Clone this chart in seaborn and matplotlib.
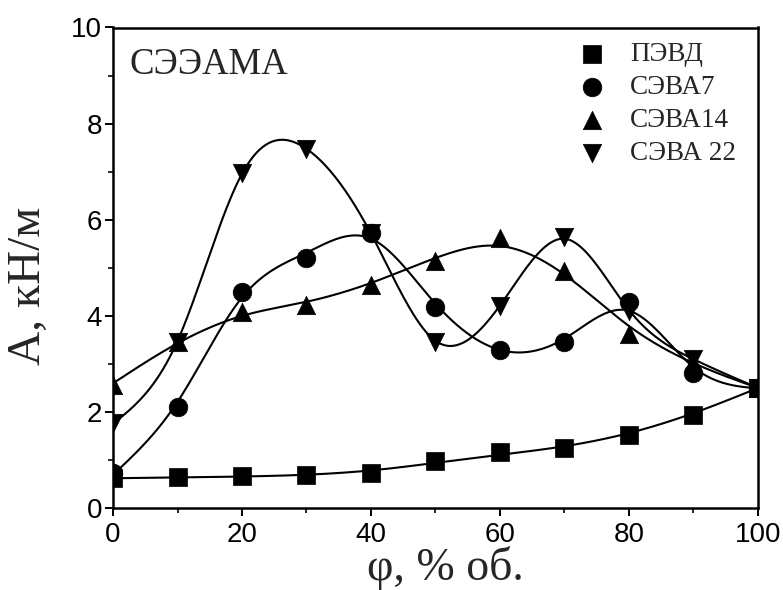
import numpy as np
import pandas as pd
import matplotlib
matplotlib.use("Agg")
import matplotlib.pyplot as plt
import seaborn as sns
from matplotlib.ticker import MultipleLocator

# ---- data ----
phi = [0, 10, 20, 30, 40, 50, 60, 70, 80, 90, 100]
pevd = [0.62, 0.64, 0.67, 0.69, 0.72, 0.98, 1.17, 1.25, 1.52, 1.93, 2.50]
seva7 = [0.72, 2.11, 4.50, 5.21, 5.73, 4.19, 3.28, 3.45, 4.28, 2.80, 2.49]
seva14 = [2.56, 3.45, 4.08, 4.22, 4.64, 5.14, 5.62, 4.93, 3.62, 3.02, 2.50]
seva22 = [1.76, 3.45, 6.98, 7.47, 5.72, 3.46, 4.21, 5.63, 4.10, 3.10, 2.50]
series_names = ["ПЭВД", "СЭВА7", "СЭВА14", "СЭВА 22"]
series_vals = [pevd, seva7, seva14, seva22]
annotation = "СЭЭАМА"
xlabel = "φ, % об."
ylabel = "A, кН/м"

# ---- style ----
markers = ["s", "o", "^", "v"]
sizes = [150, 180, 175, 175]
smooth = [500.0, 18.0, 120.0, 2.0]


def smooth_curve(x, y, lam, step=0.25):
    """Penalised (smoothing-spline like) curve through the points."""
    x = np.asarray(x, float); y = np.asarray(y, float)
    grid = np.arange(x.min(), x.max() + step / 2, step)
    n = len(grid)
    idx = np.rint((x - x.min()) / step).astype(int)
    W = np.zeros(n); z = np.zeros(n)
    W[idx] = 1.0; z[idx] = y
    W[idx[-1]] = 20.0
    D = np.diff(np.eye(n), 2, axis=0)
    A = np.diag(W) + lam / step ** 3 * D.T @ D
    return grid, np.linalg.solve(A, W * z)


sns.set_theme(style="ticks")
plt.rcParams["font.family"] = ["Liberation Serif", "DejaVu Serif"]

fig = plt.figure(figsize=(7.83, 5.90), dpi=100)
ax = fig.add_axes([113 / 783, 1 - 508 / 590, 645 / 783, 480.5 / 590])

for name, vals, m, s, lam in zip(series_names, series_vals, markers, sizes, smooth):
    df = pd.DataFrame({"x": phi, "y": vals})
    gx, gy = smooth_curve(phi, vals, lam)
    sm = pd.DataFrame({"x": gx, "y": gy})
    sns.lineplot(data=sm, x="x", y="y", ax=ax, color="black", lw=1.5, legend=False)
    sns.scatterplot(data=df, x="x", y="y", ax=ax, marker=m, s=s, color="black",
                    edgecolor="black", linewidth=0.5, label=name, zorder=3)

ax.set_xlim(0, 100)
ax.set_ylim(0, 10)
ax.xaxis.set_major_locator(MultipleLocator(20))
ax.xaxis.set_minor_locator(MultipleLocator(10))
ax.yaxis.set_major_locator(MultipleLocator(2))
ax.yaxis.set_minor_locator(MultipleLocator(1))
ax.tick_params(which="major", direction="out", length=6, width=1.4, labelsize=20,
               top=False, right=False, colors="black")
ax.tick_params(axis="x", which="major", pad=4)
ax.tick_params(axis="y", which="major", pad=2)
ax.tick_params(which="minor", direction="out", length=3.5, width=1.4, top=False, right=False)
for lab in ax.get_xticklabels() + ax.get_yticklabels():
    lab.set_family(["Liberation Sans", "DejaVu Sans"])
for sp in ax.spines.values():
    sp.set_visible(True)
    sp.set_linewidth(1.8)
    sp.set_color("black")

ax.set_xlabel(xlabel, fontsize=33)
ax.set_ylabel(ylabel, fontsize=34)
ax.xaxis.label.set_va("center")
ax.yaxis.label.set_va("center")
ax.xaxis.set_label_coords(0.515, -0.125)
ax.yaxis.set_label_coords(-0.130, 0.462)
ax.text(2.6, 9.04, annotation, fontsize=26.5, ha="left", va="baseline")

leg = ax.legend(loc="upper left", bbox_to_anchor=(0.705, 0.992), frameon=False,
                fontsize=19.5, handlelength=1.0, handletextpad=0.9,
                labelspacing=0.29, borderaxespad=0)

fig.savefig("out.png", dpi=100)
